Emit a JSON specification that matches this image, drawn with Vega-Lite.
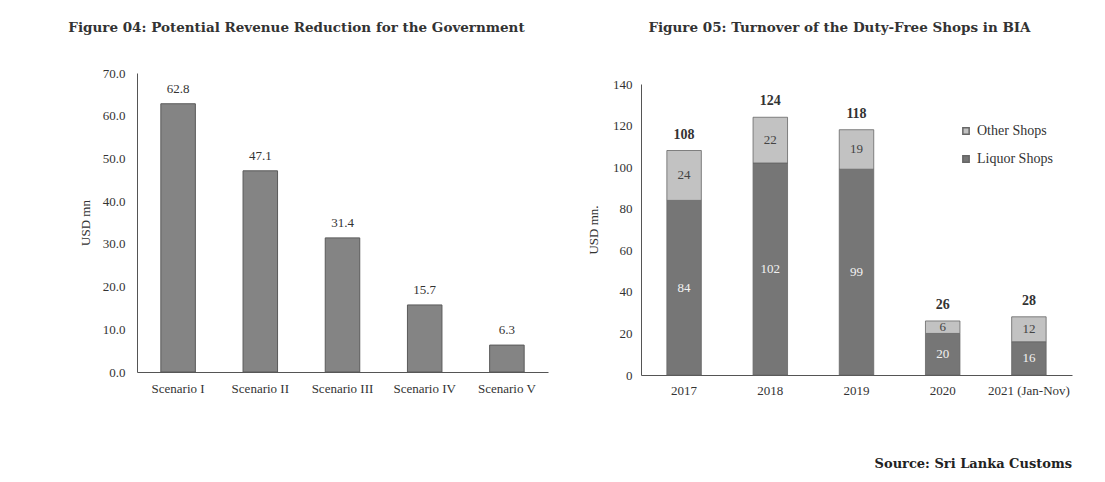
{
  "$schema": "https://vega.github.io/schema/vega-lite/v6.json",
  "background": "white",
  "padding": {"left": 65, "top": 20, "right": 10, "bottom": 5},
  "spacing": 39,
  "title": {"text": "Source: Sri Lanka Customs", "orient": "bottom", "anchor": "end", "offset": 61, "fontSize": 13, "fontWeight": "bold", "font": "DejaVu Serif", "color": "#222"},
  "config": {
    "font": "Liberation Serif",
    "view": {"stroke": null},
    "axis": {"grid": false, "ticks": false, "domainColor": "#555", "labelColor": "#333", "labelFont": "Liberation Serif", "labelFontSize": 13, "titleFont": "Liberation Serif", "titleFontSize": 13, "titleFontWeight": "normal", "titleColor": "#333"}
  },
  "hconcat": [
    {
      "width": 411,
      "height": 299,
      "title": {"text": "Figure 04:  Potential Revenue Reduction for the Government", "anchor": "middle", "dx": -46, "offset": 33, "fontSize": 13.5, "fontWeight": "bold", "font": "DejaVu Serif", "color": "#333"},
      "data": {"values": [
        {"scenario": "Scenario I", "value": 62.8},
        {"scenario": "Scenario II", "value": 47.1},
        {"scenario": "Scenario III", "value": 31.4},
        {"scenario": "Scenario IV", "value": 15.7},
        {"scenario": "Scenario V", "value": 6.3}
      ]},
      "encoding": {
        "x": {"field": "scenario", "type": "nominal", "sort": null, "title": null, "scale": {"paddingInner": 0.58, "paddingOuter": 0.29}, "axis": {"labelAngle": 0, "labelPadding": 10}},
        "y": {"field": "value", "type": "quantitative", "title": "USD mn", "scale": {"domain": [0, 70]}, "axis": {"values": [0, 10, 20, 30, 40, 50, 60, 70], "format": ".1f", "labelPadding": 12, "titlePadding": 10}}
      },
      "layer": [
        {"mark": {"type": "bar", "color": "#848484", "stroke": "#5a5a5a", "strokeWidth": 1}},
        {"mark": {"type": "text", "dy": -15, "fontSize": 13, "color": "#333"}, "encoding": {"text": {"field": "value", "type": "quantitative", "format": ".1f"}}}
      ]
    },
    {
      "width": 431,
      "height": 302,
      "title": {"text": "Figure 05: Turnover of the Duty-Free Shops in BIA", "anchor": "middle", "dx": -17, "offset": 39, "fontSize": 13.5, "fontWeight": "bold", "font": "DejaVu Serif", "color": "#333"},
      "data": {"values": [
        {"year": "2017", "shop": "Liquor Shops", "value": 84},
        {"year": "2017", "shop": "Other Shops", "value": 24},
        {"year": "2018", "shop": "Liquor Shops", "value": 102},
        {"year": "2018", "shop": "Other Shops", "value": 22},
        {"year": "2019", "shop": "Liquor Shops", "value": 99},
        {"year": "2019", "shop": "Other Shops", "value": 19},
        {"year": "2020", "shop": "Liquor Shops", "value": 20},
        {"year": "2020", "shop": "Other Shops", "value": 6},
        {"year": "2021 (Jan-Nov)", "shop": "Liquor Shops", "value": 16},
        {"year": "2021 (Jan-Nov)", "shop": "Other Shops", "value": 12}
      ]},
      "layer": [
        {
          "mark": {"type": "bar", "stroke": "#666", "strokeWidth": 0.8},
          "encoding": {
            "x": {"field": "year", "type": "nominal", "sort": null, "title": null, "scale": {"paddingInner": 0.6, "paddingOuter": 0.3}, "axis": {"labelAngle": 0, "labelPadding": 9}},
            "y": {"field": "value", "type": "quantitative", "aggregate": "sum", "title": "USD mn.", "scale": {"domain": [0, 140], "range": [302, 11]}, "axis": {"values": [0, 20, 40, 60, 80, 100, 120, 140], "labelPadding": 9, "titlePadding": 12}},
            "color": {"field": "shop", "type": "nominal", "title": null, "scale": {"domain": ["Other Shops", "Liquor Shops"], "range": ["#c2c2c2", "#767676"]},
              "legend": {"orient": "none", "legendX": 822, "legendY": 51, "symbolType": "square", "symbolSize": 40, "labelFontSize": 14, "labelFont": "Liberation Serif", "labelColor": "#333", "rowPadding": 14}},
            "order": {"field": "shop", "type": "nominal", "sort": "ascending"}
          }
        },
        {
          "transform": [
            {"stack": "value", "groupby": ["year"], "sort": [{"field": "shop", "order": "ascending"}], "as": ["y0", "y1"]},
            {"fold": ["y0", "y1"], "as": ["edge", "pos"]}
          ],
          "mark": {"type": "text", "fontSize": 13},
          "encoding": {
            "x": {"field": "year", "type": "nominal", "sort": null},
            "y": {"field": "pos", "type": "quantitative", "aggregate": "mean"},
            "text": {"field": "value", "type": "quantitative"},
            "detail": {"field": "shop", "type": "nominal"},
            "color": {"condition": {"test": "datum.shop === 'Liquor Shops'", "value": "#f2f2f2"}, "value": "#444"}
          }
        },
        {
          "mark": {"type": "text", "dy": -16, "fontSize": 14, "fontWeight": "bold", "color": "#333"},
          "encoding": {
            "x": {"field": "year", "type": "nominal", "sort": null},
            "y": {"field": "value", "type": "quantitative", "aggregate": "sum"},
            "text": {"field": "value", "type": "quantitative", "aggregate": "sum"}
          }
        }
      ]
    }
  ]
}
